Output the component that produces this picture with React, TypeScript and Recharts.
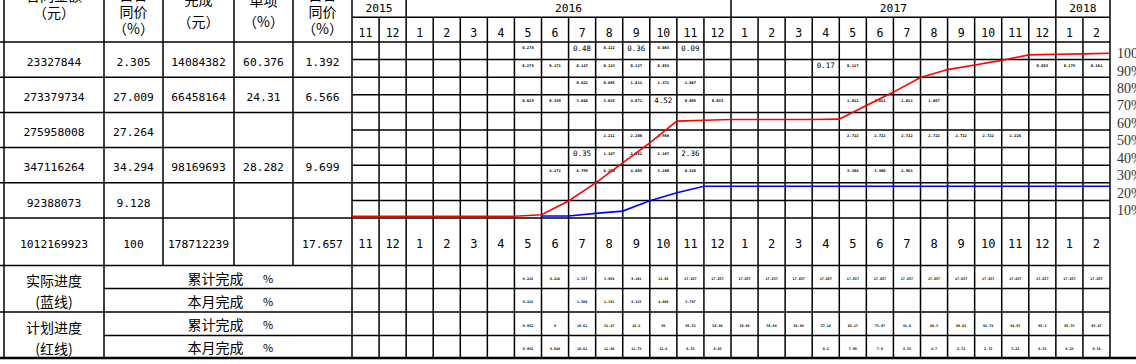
import { LineChart, Line, XAxis, YAxis } from "recharts";

const months = [
  "2015-11", "2015-12",
  "2016-1", "2016-2", "2016-3", "2016-4", "2016-5", "2016-6",
  "2016-7", "2016-8", "2016-9", "2016-10", "2016-11", "2016-12",
  "2017-1", "2017-2", "2017-3", "2017-4", "2017-5", "2017-6",
  "2017-7", "2017-8", "2017-9", "2017-10", "2017-11", "2017-12",
  "2018-1", "2018-2",
];
const years = ["2015", "2016", "2017", "2018"];

// 实际进度（蓝线）：累计完成 / 本月完成 (%)
const actualCum = [
  null, null, null, null, null, null,
  0.218, 0.218, 1.727, 3.058, 9.191, 13.86,
  17.657, 17.657, 17.657, 17.657, 17.657, 17.657, 17.657, 17.657,
  17.657, 17.657, 17.657, 17.657, 17.657, 17.657, 17.657, 17.657,
];
const actualMonth = [
  null, null, null, null, null, null,
  0.218, null, 1.509, 1.331, 6.133, 4.669, 3.797,
  null, null, null, null, null, null, null, null, null, null, null, null, null, null, null,
];

// 计划进度（红线）：累计完成 / 本月完成 (%)
const planCum = [
  null, null, null, null, null, null,
  0.952, 9.0, 19.61, 31.47, 43.2, 56.0, 56.53, 56.98,
  56.98, 56.98, 56.98, 57.18, 65.17, 73.07, 81.6, 86.3,
  89.02, 91.74, 94.97, 95.3, 95.53, 95.87,
];
const planMonth = [
  null, null, null, null, null, null,
  0.952, 8.048, 10.61, 11.86, 11.73, 12.8, 0.53, 0.45,
  null, null, null, 0.2, 7.99, 7.9, 8.53, 4.7,
  2.72, 2.72, 3.23, 0.33, 0.23, 0.34,
];

const pctTicks = [10, 20, 30, 40, 50, 60, 70, 80, 90, 100];

// 左侧表格
const itemAmount = [23327844, 273379734, 275958008, 347116264, 92388073, 1012169923];
const itemShare = [2.305, 27.009, 27.264, 34.294, 9.128, 100];
const doneAmount = [14084382, 66458164, null, 98169693, null, 178712239];
const donePct = [60.376, 24.31, null, 28.282, null, null];
const doneShare = [1.392, 6.566, null, 9.699, null, 17.657];

const headCols = [
  ["合同金额", "（元）"],
  ["占合", "同价", "（%）"],
  ["累计", "完成", "（元）"],
  ["占", "单项", "（%）"],
  ["占合", "同价", "（%）"],
];

const progressGroups = [
  ["实际进度", "(蓝线)"],
  ["计划进度", "(红线)"],
];
const progressRows = ["累计完成", "本月完成", "累计完成", "本月完成"];

// 各分项每月完成 (%)，按图中小格
const cellNotes: Record<string, string>[] = [
  { "2016-5": "0.278", "2016-7": "0.48", "2016-8": "0.122", "2016-9": "0.36", "2016-10": "0.083", "2016-11": "0.09" },
  { "2016-5": "0.279", "2016-6": "0.171", "2016-7": "0.147", "2016-8": "0.123", "2016-9": "0.127", "2016-10": "0.033",
    "2017-4": "0.17", "2017-5": "0.127", "2017-12": "0.033", "2018-1": "0.179", "2018-2": "0.181" },
  { "2016-7": "0.622", "2016-8": "0.685", "2016-9": "1.811", "2016-10": "1.372", "2016-11": "1.887" },
  { "2016-5": "0.019", "2016-6": "0.339", "2016-7": "3.048", "2016-8": "3.825", "2016-9": "4.071", "2016-10": "4.52",
    "2016-11": "0.095", "2016-12": "0.033", "2017-5": "1.821", "2017-6": "1.821", "2017-7": "1.821", "2017-8": "1.867" },
  {},
  { "2016-8": "2.211", "2016-9": "2.208", "2016-10": "1.988", "2017-5": "2.722", "2017-6": "2.722", "2017-7": "2.722",
    "2017-8": "2.722", "2017-9": "2.722", "2017-10": "2.722", "2017-11": "2.226" },
  { "2016-7": "0.35", "2016-8": "1.167", "2016-9": "2.562", "2016-10": "2.187", "2016-11": "2.36" },
  { "2016-6": "4.272", "2016-7": "6.799", "2016-8": "6.208", "2016-9": "4.803", "2016-10": "3.280", "2016-11": "0.326",
    "2017-5": "3.304", "2017-6": "3.306", "2017-7": "2.961" },
];

const lineData = [
  { x: 0, plan: 0, actual: null as number | null },
  ...months.map((m, i) => ({ x: i + 1, month: m, plan: planCum[i] ?? 0, actual: actualCum[i] })),
];

const NUM = "'DejaVu Sans Mono', monospace";
const CJK = "'Noto Sans CJK SC', sans-serif";
const X0 = 352;
const COLW = 758 / 28;
const colX = (i: number) => X0 + i * COLW;
const GRID_TOP = 42;
const ROWH = 17.6;
const leftCols = [4, 104, 163, 234, 293, 352];
const leftRows = [42, 77.2, 112.4, 147.6, 182.8, 218, 265.5];
const headPos = [[12.5, 17], [28.5, 17], [21.5, 21.5], [21.7, 21], [28.5, 17]];
const bottomRows = [265.5, 288.5, 312, 335.5, 358];

function T({ x, cy, size, font = NUM, anchor = "middle", weight = "normal", children }: any) {
  return (
    <text x={x} y={cy + size * 0.37} fontSize={size} fontFamily={font} textAnchor={anchor} fontWeight={weight} fill="#000">
      {children}
    </text>
  );
}

const fmt = (v: number | null) => (v === null ? "" : String(v));

function Sheet() {
  const lines: JSX.Element[] = [];
  const h = (y: number, x1: number, x2: number, w = 1.5) =>
    lines.push(<line key={`h${lines.length}`} x1={x1} x2={x2} y1={y} y2={y} stroke="#000" strokeWidth={w} />);
  const v = (x: number, y1: number, y2: number) =>
    lines.push(<line key={`v${lines.length}`} x1={x} x2={x} y1={y1} y2={y2} stroke="#000" strokeWidth={1.5} />);

  h(17.3, X0, colX(28));
  for (let r = 0; r <= 10; r++) h(GRID_TOP + r * ROWH, r % 2 === 0 ? 0 : X0, colX(28));
  h(265.5, 0, colX(28));
  h(288.5, 104, colX(28));
  h(312, 0, colX(28));
  h(335.5, 104, colX(28));
  h(358, 0, 1136, 2.6);
  v(4, 0, 358);
  v(104, 0, 358);
  [163, 234, 293].forEach((x) => v(x, 0, 265.5));
  v(X0, 0, 358);
  const yearStarts = years.map((y) => months.findIndex((m) => m.startsWith(y)));
  for (let i = 1; i <= 28; i++) v(colX(i), yearStarts.includes(i) || i === 28 ? 0 : 17.3, 358);

  const texts: JSX.Element[] = [];
  years.forEach((y, yi) => {
    const first = yearStarts[yi];
    const last = yi + 1 < years.length ? yearStarts[yi + 1] : months.length;
    texts.push(<T key={`y${y}`} x={colX((first + last) / 2)} cy={8.3} size={11.3}>{y}</T>);
  });
  months.forEach((m, i) => {
    const lab = m.split("-")[1];
    texts.push(<T key={`m${i}`} x={colX(i + 0.5)} cy={32.5} size={11.5}>{lab}</T>);
    texts.push(<T key={`mb${i}`} x={colX(i + 0.5)} cy={243.3} size={12}>{lab}</T>);
  });

  headCols.forEach((lns, c) => {
    const cx = (leftCols[c] + leftCols[c + 1]) / 2;
    const [lastY, pitch] = headPos[c];
    lns.forEach((s, k) => {
      const cy = lastY - (lns.length - 1 - k) * pitch;
      texts.push(<T key={`hd${c}${k}`} x={cx} cy={cy} size={14} font={CJK}>{s}</T>);
    });
  });

  [itemAmount, itemShare, doneAmount, donePct, doneShare].forEach((col, c) => {
    const cx = (leftCols[c] + leftCols[c + 1]) / 2;
    col.forEach((val, r) => {
      const cy = (leftRows[r] + leftRows[r + 1]) / 2 + 2;
      texts.push(<T key={`lt${c}${r}`} x={cx} cy={cy} size={11.3}>{fmt(val)}</T>);
    });
  });

  cellNotes.forEach((row, r) => {
    Object.entries(row).forEach(([m, s]) => {
      const i = months.indexOf(m);
      const short = s.length <= 4;
      texts.push(
        <T key={`n${r}${m}`} x={colX(i + 0.5)} cy={GRID_TOP + (r + 0.5) * ROWH - 3} size={short ? 7.5 : 3.8} weight={short ? "normal" : "bold"}>
          {s}
        </T>
      );
    });
  });

  progressGroups.forEach((g, k) => {
    const top = bottomRows[k * 2];
    texts.push(<T key={`pg${k}a`} x={54} cy={top + 15.5} size={14} font={CJK}>{g[0]}</T>);
    texts.push(<T key={`pg${k}b`} x={54} cy={top + 36.5} size={14} font={CJK}>{g[1]}</T>);
  });
  [actualCum, actualMonth, planCum, planMonth].forEach((vals, r) => {
    const cy = (bottomRows[r] + bottomRows[r + 1]) / 2 + 1.5;
    texts.push(<T key={`pr${r}`} x={215.5} cy={cy} size={14} font={CJK}>{progressRows[r]}</T>);
    texts.push(<T key={`pp${r}`} x={268} cy={cy} size={11} font={CJK}>%</T>);
    vals.forEach((val, i) => {
      if (val === null) return;
      texts.push(<T key={`bv${r}${i}`} x={colX(i + 0.5)} cy={cy} size={3.4} weight="bold">{fmt(val)}</T>);
    });
  });

  return (
    <svg width={1136} height={364} style={{ position: "absolute", left: 0, top: 0 }}>
      <rect width={1136} height={364} fill="#fff" />
      {texts}
      {lines}
    </svg>
  );
}

export default function App() {
  return (
    <div style={{ position: "absolute", left: 0, top: 0, width: 1136, height: 364, overflow: "hidden", background: "#fff" }}>
      <Sheet />
      <div style={{ position: "absolute", left: X0, top: GRID_TOP }}>
        <LineChart width={784} height={176} data={lineData} margin={{ top: 0, right: 0, bottom: 0, left: 0 }}>
          <XAxis type="number" dataKey="x" domain={[0, 28]} hide allowDataOverflow />
          <YAxis yAxisId="pct" type="number" domain={[-1, 102.53]} hide allowDataOverflow />
          <YAxis
            yAxisId="lbl"
            type="number"
            orientation="right"
            width={26}
            domain={[5.4, 106.49]}
            ticks={pctTicks}
            interval={0}
            allowDataOverflow
            axisLine={false}
            tickLine={false}
            tickSize={5}
            tickMargin={2}
            tickFormatter={(v: number) => `${v}%`}
            tick={{ fill: "#333", fontSize: 14, fontFamily: "'Liberation Serif', serif" }}
          />
          <Line yAxisId="pct" type="linear" dataKey="actual" stroke="#0000ff" strokeWidth={1.6} dot={false} isAnimationActive={false} />
          <Line yAxisId="pct" type="linear" dataKey="plan" stroke="#ff0000" strokeWidth={1.6} dot={false} isAnimationActive={false} />
        </LineChart>
      </div>
    </div>
  );
}
